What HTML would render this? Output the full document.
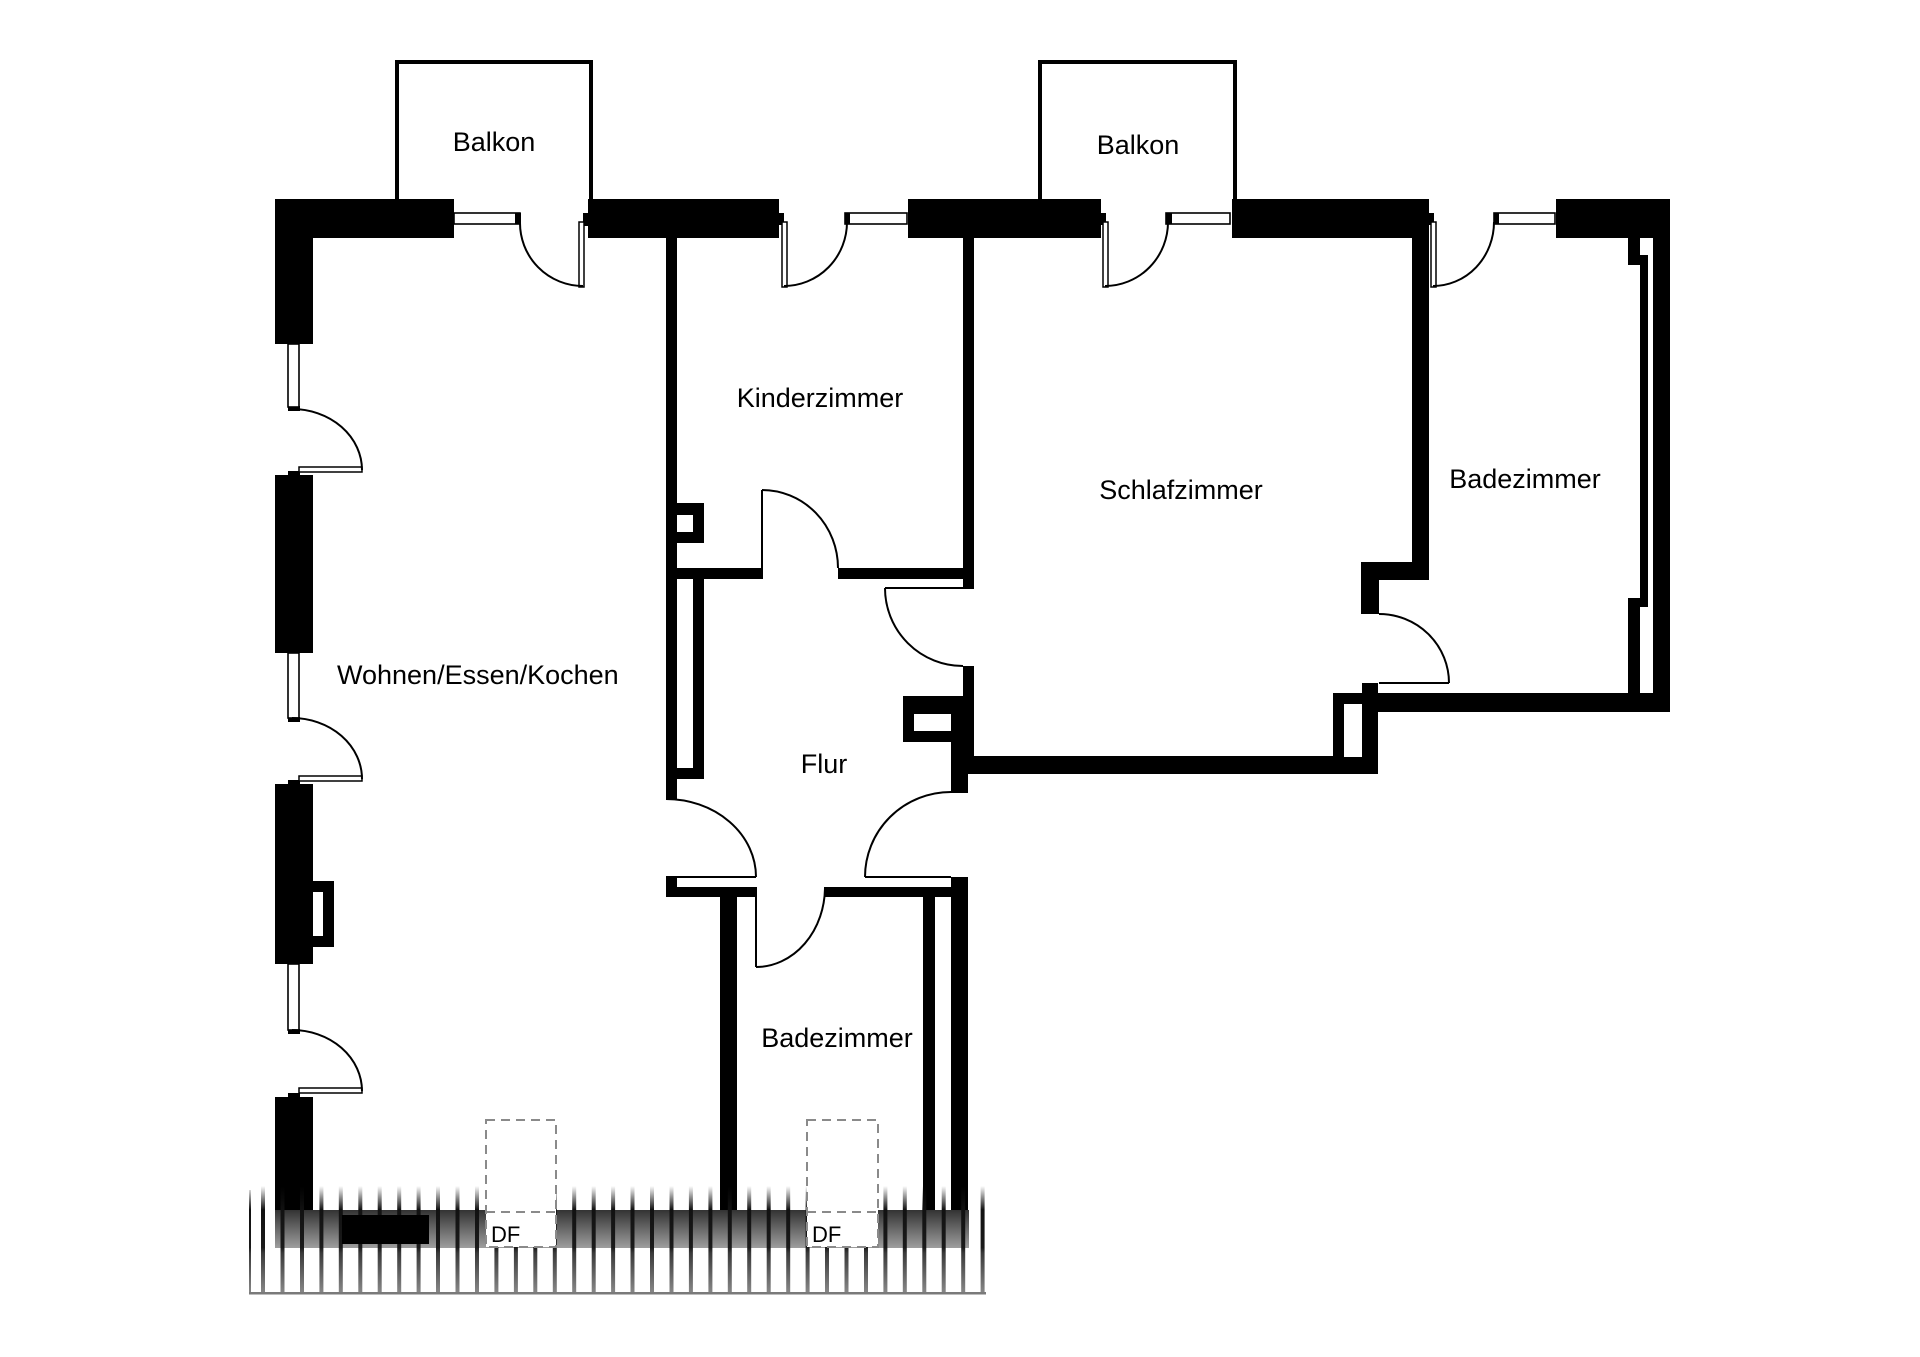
<!DOCTYPE html>
<html>
<head>
<meta charset="utf-8">
<style>
html,body{margin:0;padding:0;background:#fff;}
svg{display:block;}
text{font-family:"Liberation Sans",Arial,sans-serif;fill:#000;}
</style>
</head>
<body>
<svg width="1920" height="1357" viewBox="0 0 1920 1357" xmlns="http://www.w3.org/2000/svg">
<defs>
  <linearGradient id="bandG" x1="0" y1="1210" x2="0" y2="1248" gradientUnits="userSpaceOnUse">
    <stop offset="0" stop-color="#333"/>
    <stop offset="1" stop-color="#9e9e9e"/>
  </linearGradient>
  <linearGradient id="barG" x1="0" y1="1186" x2="0" y2="1294" gradientUnits="userSpaceOnUse">
    <stop offset="0" stop-color="#111" stop-opacity="0"/>
    <stop offset="0.22" stop-color="#111" stop-opacity="1"/>
    <stop offset="0.57" stop-color="#1a1a1a" stop-opacity="1"/>
    <stop offset="0.62" stop-color="#3a3a3a" stop-opacity="1"/>
    <stop offset="1" stop-color="#8a8a8a" stop-opacity="1"/>
  </linearGradient>
</defs>
<rect x="0" y="0" width="1920" height="1357" fill="#fff"/>

<!-- Balconies (open at bottom) -->
<polyline points="397,201 397,62 591,62 591,201" fill="none" stroke="#000" stroke-width="4"/>
<polyline points="1040,201 1040,62 1235,62 1235,201" fill="none" stroke="#000" stroke-width="4"/>

<g fill="#000">
  <!-- top walls -->
  <rect x="275" y="199" width="179" height="39"/>
  <rect x="275" y="199" width="38" height="145"/>
  <rect x="588" y="199" width="191" height="39"/>
  <rect x="908" y="199" width="193" height="39"/>
  <rect x="1232" y="199" width="197" height="39"/>
  <rect x="1556" y="199" width="114" height="39"/>
  <!-- nubs near doors -->
  <rect x="583" y="213" width="6" height="13"/>
  <rect x="779" y="213" width="5" height="12"/>
  <rect x="1101" y="213" width="5" height="12"/>
  <rect x="1429" y="213" width="5" height="12"/>
  <!-- right outer wall -->
  <rect x="1653" y="199" width="17" height="513"/>
  <rect x="1628" y="238" width="12" height="27"/>
  <rect x="1640" y="255" width="8" height="352"/>
  <rect x="1628" y="598" width="12" height="97"/>
  <rect x="1378" y="693" width="292" height="19"/>
  <!-- Schlafzimmer right wall -->
  <rect x="1412" y="238" width="17" height="342"/>
  <rect x="1361" y="562" width="68" height="18"/>
  <rect x="1361" y="562" width="18" height="52"/>
  <rect x="1362" y="683" width="16" height="91"/>
  <rect x="1333" y="693" width="29" height="81"/>
  <!-- Schlafzimmer bottom -->
  <rect x="968" y="756" width="410" height="18"/>
  <!-- Kinder/Schlaf wall -->
  <rect x="963" y="238" width="11" height="351"/>
  <rect x="963" y="666" width="11" height="108"/>
  <rect x="903" y="696" width="71" height="46"/>
  <rect x="951" y="742" width="17" height="51"/>
  <!-- bottom bathroom -->
  <rect x="951" y="877" width="17" height="333"/>
  <rect x="923" y="897" width="12" height="313"/>
  <rect x="825" y="887" width="143" height="10"/>
  <rect x="720" y="887" width="17" height="323"/>
  <rect x="666" y="887" width="90" height="10"/>
  <rect x="666" y="877" width="11" height="20"/>
  <!-- Wohnen/Kinder wall -->
  <rect x="666" y="238" width="11" height="561"/>
  <rect x="677" y="503" width="27" height="40"/>
  <rect x="666" y="568" width="96" height="11"/>
  <rect x="838" y="568" width="136" height="11"/>
  <rect x="693" y="579" width="11" height="200"/>
  <rect x="677" y="768" width="27" height="11"/>
  <!-- left wall segments -->
  <rect x="275" y="475" width="38" height="178"/>
  <rect x="275" y="784" width="38" height="180"/>
  <rect x="275" y="1097" width="38" height="151"/>
  <rect x="313" y="881" width="21" height="66"/>
  <!-- left nubs -->
  <rect x="288" y="406" width="12" height="5"/>
  <rect x="288" y="471" width="12" height="5"/>
  <rect x="288" y="717" width="12" height="5"/>
  <rect x="288" y="780" width="12" height="5"/>
  <rect x="288" y="1029" width="12" height="5"/>
  <rect x="288" y="1093" width="12" height="5"/>
</g>

<!-- white inner cutouts -->
<g fill="#fff">
  <rect x="1344" y="704" width="18" height="53"/>
  <rect x="914" y="714" width="37" height="17"/>
  <rect x="677" y="515" width="16" height="17"/>
  <rect x="313" y="892" width="10" height="44"/>
  <rect x="1648" y="243" width="5" height="450"/>
</g>

<!-- windows -->
<g fill="#fff" stroke="#000" stroke-width="1.6">
  <rect x="454" y="213" width="66" height="11"/>
  <rect x="845" y="213" width="62" height="11"/>
  <rect x="1166" y="213" width="64" height="11"/>
  <rect x="1494" y="213" width="61" height="11"/>
  <rect x="288" y="344" width="11" height="63"/>
  <rect x="288" y="653" width="11" height="65"/>
  <rect x="288" y="964" width="11" height="66"/>
</g>
<g fill="#000">
  <rect x="515" y="213" width="6" height="11"/>
  <rect x="845" y="213" width="5" height="11"/>
  <rect x="1166" y="213" width="6" height="11"/>
  <rect x="1494" y="213" width="5" height="11"/>
</g>

<!-- door leaves (double) -->
<g fill="#fff" stroke="#000" stroke-width="1.5">
  <rect x="579" y="222" width="5" height="65"/>
  <rect x="782" y="222" width="5" height="65"/>
  <rect x="1103" y="222" width="5" height="65"/>
  <rect x="1431" y="222" width="5" height="65"/>
  <rect x="299" y="467" width="63" height="5"/>
  <rect x="299" y="776" width="63" height="5"/>
  <rect x="299" y="1088" width="63" height="5"/>
</g>

<!-- door arcs and single leaves -->
<g fill="none" stroke="#000" stroke-width="2">
  <path d="M 520 222 A 63 63 0 0 0 583 286"/>
  <path d="M 847 222 A 63 64 0 0 1 784 286"/>
  <path d="M 1168 222 A 63 64 0 0 1 1105 286"/>
  <path d="M 1494 222 A 61 64 0 0 1 1433 286"/>
  <path d="M 292 409 A 70 61 0 0 1 362 470"/>
  <path d="M 292 718 A 70 61 0 0 1 362 779"/>
  <path d="M 292 1030 A 70 61 0 0 1 362 1091"/>
  <path d="M 762 490 A 76 78 0 0 1 838 568"/>
  <path d="M 762 490 L 762 579"/>
  <path d="M 885 588 A 78 78 0 0 0 963 666"/>
  <path d="M 885 588 L 963 588"/>
  <path d="M 666 799 A 90 78 0 0 1 756 877"/>
  <path d="M 666 877 L 756 877"/>
  <path d="M 951 792 A 86 85 0 0 0 865 877"/>
  <path d="M 865 877 L 951 877"/>
  <path d="M 756 967 A 69 80 0 0 0 825 887"/>
  <path d="M 756 887 L 756 967"/>
  <path d="M 1379 614 A 70 69 0 0 1 1449 683"/>
  <path d="M 1379 683 L 1449 683"/>
</g>

<!-- bottom band -->
<rect x="275" y="1210" width="694" height="38" fill="url(#bandG)"/>

<!-- hatch bars -->
<g fill="url(#barG)">
  <rect x="249" y="1190" width="2" height="104"/>
  <rect x="261" y="1186" width="4" height="108"/>
  <rect x="280.5" y="1186" width="4" height="108"/>
  <rect x="300" y="1186" width="4" height="108"/>
  <rect x="319.4" y="1186" width="4" height="108"/>
  <rect x="338.8" y="1186" width="4" height="108"/>
  <rect x="358.3" y="1186" width="4" height="108"/>
  <rect x="377.7" y="1186" width="4" height="108"/>
  <rect x="397.2" y="1186" width="4" height="108"/>
  <rect x="416.6" y="1186" width="4" height="108"/>
  <rect x="436" y="1186" width="4" height="108"/>
  <rect x="455.5" y="1186" width="4" height="108"/>
  <rect x="475" y="1186" width="4" height="108"/>
  <rect x="494.4" y="1186" width="4" height="108"/>
  <rect x="513.9" y="1186" width="4" height="108"/>
  <rect x="533.3" y="1186" width="4" height="108"/>
  <rect x="552.8" y="1186" width="4" height="108"/>
  <rect x="572.2" y="1186" width="4" height="108"/>
  <rect x="591.7" y="1186" width="4" height="108"/>
  <rect x="611.1" y="1186" width="4" height="108"/>
  <rect x="630.5" y="1186" width="4" height="108"/>
  <rect x="650" y="1186" width="4" height="108"/>
  <rect x="669.5" y="1186" width="4" height="108"/>
  <rect x="688.9" y="1186" width="4" height="108"/>
  <rect x="708.4" y="1186" width="4" height="108"/>
  <rect x="727.8" y="1186" width="4" height="108"/>
  <rect x="747.2" y="1186" width="4" height="108"/>
  <rect x="766.7" y="1186" width="4" height="108"/>
  <rect x="786.2" y="1186" width="4" height="108"/>
  <rect x="805.6" y="1186" width="4" height="108"/>
  <rect x="825" y="1186" width="4" height="108"/>
  <rect x="844.5" y="1186" width="4" height="108"/>
  <rect x="864" y="1186" width="4" height="108"/>
  <rect x="883.4" y="1186" width="4" height="108"/>
  <rect x="902.8" y="1186" width="4" height="108"/>
  <rect x="922.3" y="1186" width="4" height="108"/>
  <rect x="941.7" y="1186" width="4" height="108"/>
  <rect x="961.2" y="1186" width="4" height="108"/>
  <rect x="980.6" y="1186" width="4" height="108"/>
</g>
<rect x="249" y="1292" width="737" height="2.5" fill="#7a7a7a"/>

<!-- black rect in bottom wall -->
<rect x="342" y="1215" width="87" height="29" fill="#000"/>

<!-- DF boxes -->
<g fill="#fff" stroke="#8a8a8a" stroke-width="2" stroke-dasharray="9,6">
  <rect x="486" y="1120" width="70" height="127"/>
  <rect x="807" y="1120" width="71" height="127"/>
</g>
<g stroke="#8a8a8a" stroke-width="2" stroke-dasharray="9,6">
  <line x1="486" y1="1212" x2="556" y2="1212"/>
  <line x1="807" y1="1212" x2="878" y2="1212"/>
</g>
<text x="491" y="1242" font-size="22">DF</text>
<text x="812" y="1242" font-size="22">DF</text>

<!-- labels -->
<text x="494" y="151" font-size="27" text-anchor="middle">Balkon</text>
<text x="1138" y="154" font-size="27" text-anchor="middle">Balkon</text>
<text x="820" y="407" font-size="27" text-anchor="middle">Kinderzimmer</text>
<text x="1181" y="499" font-size="27" text-anchor="middle">Schlafzimmer</text>
<text x="1525" y="488" font-size="27" text-anchor="middle">Badezimmer</text>
<text x="337" y="684" font-size="27">Wohnen/Essen/Kochen</text>
<text x="824" y="773" font-size="27" text-anchor="middle">Flur</text>
<text x="837" y="1047" font-size="27" text-anchor="middle">Badezimmer</text>
</svg>
</body>
</html>
